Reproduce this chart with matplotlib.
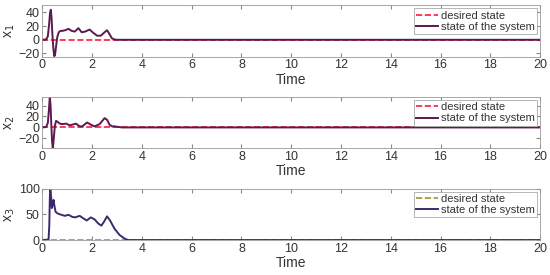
import matplotlib
matplotlib.use('Agg')
import matplotlib.pyplot as plt

plt.rcParams['font.family'] = ['Liberation Sans', 'DejaVu Sans']

# Data
t1 = [0, 0.15, 0.22, 0.27, 0.31, 0.34, 0.37, 0.4, 0.44, 0.48, 0.51, 0.55, 0.6, 0.66, 0.72, 0.8,
      0.92, 1.05, 1.18, 1.3, 1.45, 1.58, 1.72, 1.9, 2.05, 2.2, 2.35, 2.5, 2.6, 2.7, 2.8, 2.9,
      3.0, 20]
x1 = [0, 0.5, 5, 22, 40, 44, 32, 10, -12, -24, -22, -10, 4, 11, 13, 13,
      14, 16, 13, 12, 17, 11, 12, 15, 10, 6, 6, 11, 14, 8, 2, 0.5,
      0, 0]

t2 = [0, 0.15, 0.22, 0.26, 0.3, 0.33, 0.36, 0.39, 0.42, 0.46, 0.5, 0.55, 0.62, 0.7, 0.8, 0.95,
      1.1, 1.2, 1.35, 1.5, 1.6, 1.8, 1.95, 2.1, 2.3, 2.5, 2.6, 2.7, 2.8, 2.9, 3.05, 3.2, 20]
x2 = [0, 1, 8, 30, 56, 40, 5, -25, -38, -20, 2, 12, 10, 7, 6, 7,
      4, 5, 7, 2, 2, 9, 5, 2, 6, 17, 14, 5, 2, 2, 1, 0, 0]

t3 = [0, 0.25, 0.28, 0.3, 0.32, 0.35, 0.38, 0.41, 0.45, 0.49, 0.53, 0.6, 0.7, 0.9, 1.05, 1.2,
      1.32, 1.5, 1.62, 1.78, 1.95, 2.1, 2.25, 2.37, 2.47, 2.6, 2.72, 2.9, 3.1, 3.3, 3.45, 20]
x3 = [0, 1, 30, 80, 100, 85, 62, 68, 78, 65, 55, 52, 50, 47, 49, 45,
      44, 47, 43, 38, 44, 40, 32, 28, 35, 46, 38, 22, 10, 3, 0, 0]

series = [(t1, x1, 'x$_1$', (-24.5, 51), [-20, 0, 20, 40], '#5c1a4e', '#ff1a3c'),
          (t2, x2, 'x$_2$', (-38, 56), [-20, 0, 20, 40], '#5c1a4e', '#ff1a3c'),
          (t3, x3, 'x$_3$', (0, 100), [0, 50, 100], '#3d2a6e', '#b08a3a')]

fig, axes = plt.subplots(3, 1, figsize=(5.5, 2.75), dpi=100)
fig.subplots_adjust(left=0.077, right=0.982, top=0.982, bottom=0.127, hspace=0.78)

for ax, (t, x, name, yl, yt, c_sys, c_des) in zip(axes, series):
    ax.plot([0, 20], [0, 0], '--', color=c_des, lw=1.2, label='desired state')
    ax.plot(t, x, '-', color=c_sys, lw=1.4, label='state of the system')
    ax.set_xlim(0, 20)
    ax.set_ylim(*yl)
    ax.set_yticks(yt)
    ax.set_xticks(range(0, 21, 2))
    ax.set_ylabel(name, fontsize=10, labelpad=1, color='#333333')
    ax.set_xlabel('Time', fontsize=10, labelpad=1, color='#333333')
    ax.tick_params(direction='in', top=True, right=True, labelsize=9, length=3,
                   color='#888888', labelcolor='#333333', pad=2)
    for s in ax.spines.values():
        s.set_color('#999999')
        s.set_linewidth(0.6)
    leg = ax.legend(loc='upper right', fontsize=8, handlelength=2, handletextpad=0.2,
                    borderpad=0.2, labelspacing=0.1, fancybox=False, framealpha=1,
                    borderaxespad=0.3)
    leg.get_frame().set_edgecolor('#aaaaaa')
    leg.get_frame().set_linewidth(0.6)
    for txt in leg.get_texts():
        txt.set_color('#333333')

fig.savefig('out.png', dpi=100)
